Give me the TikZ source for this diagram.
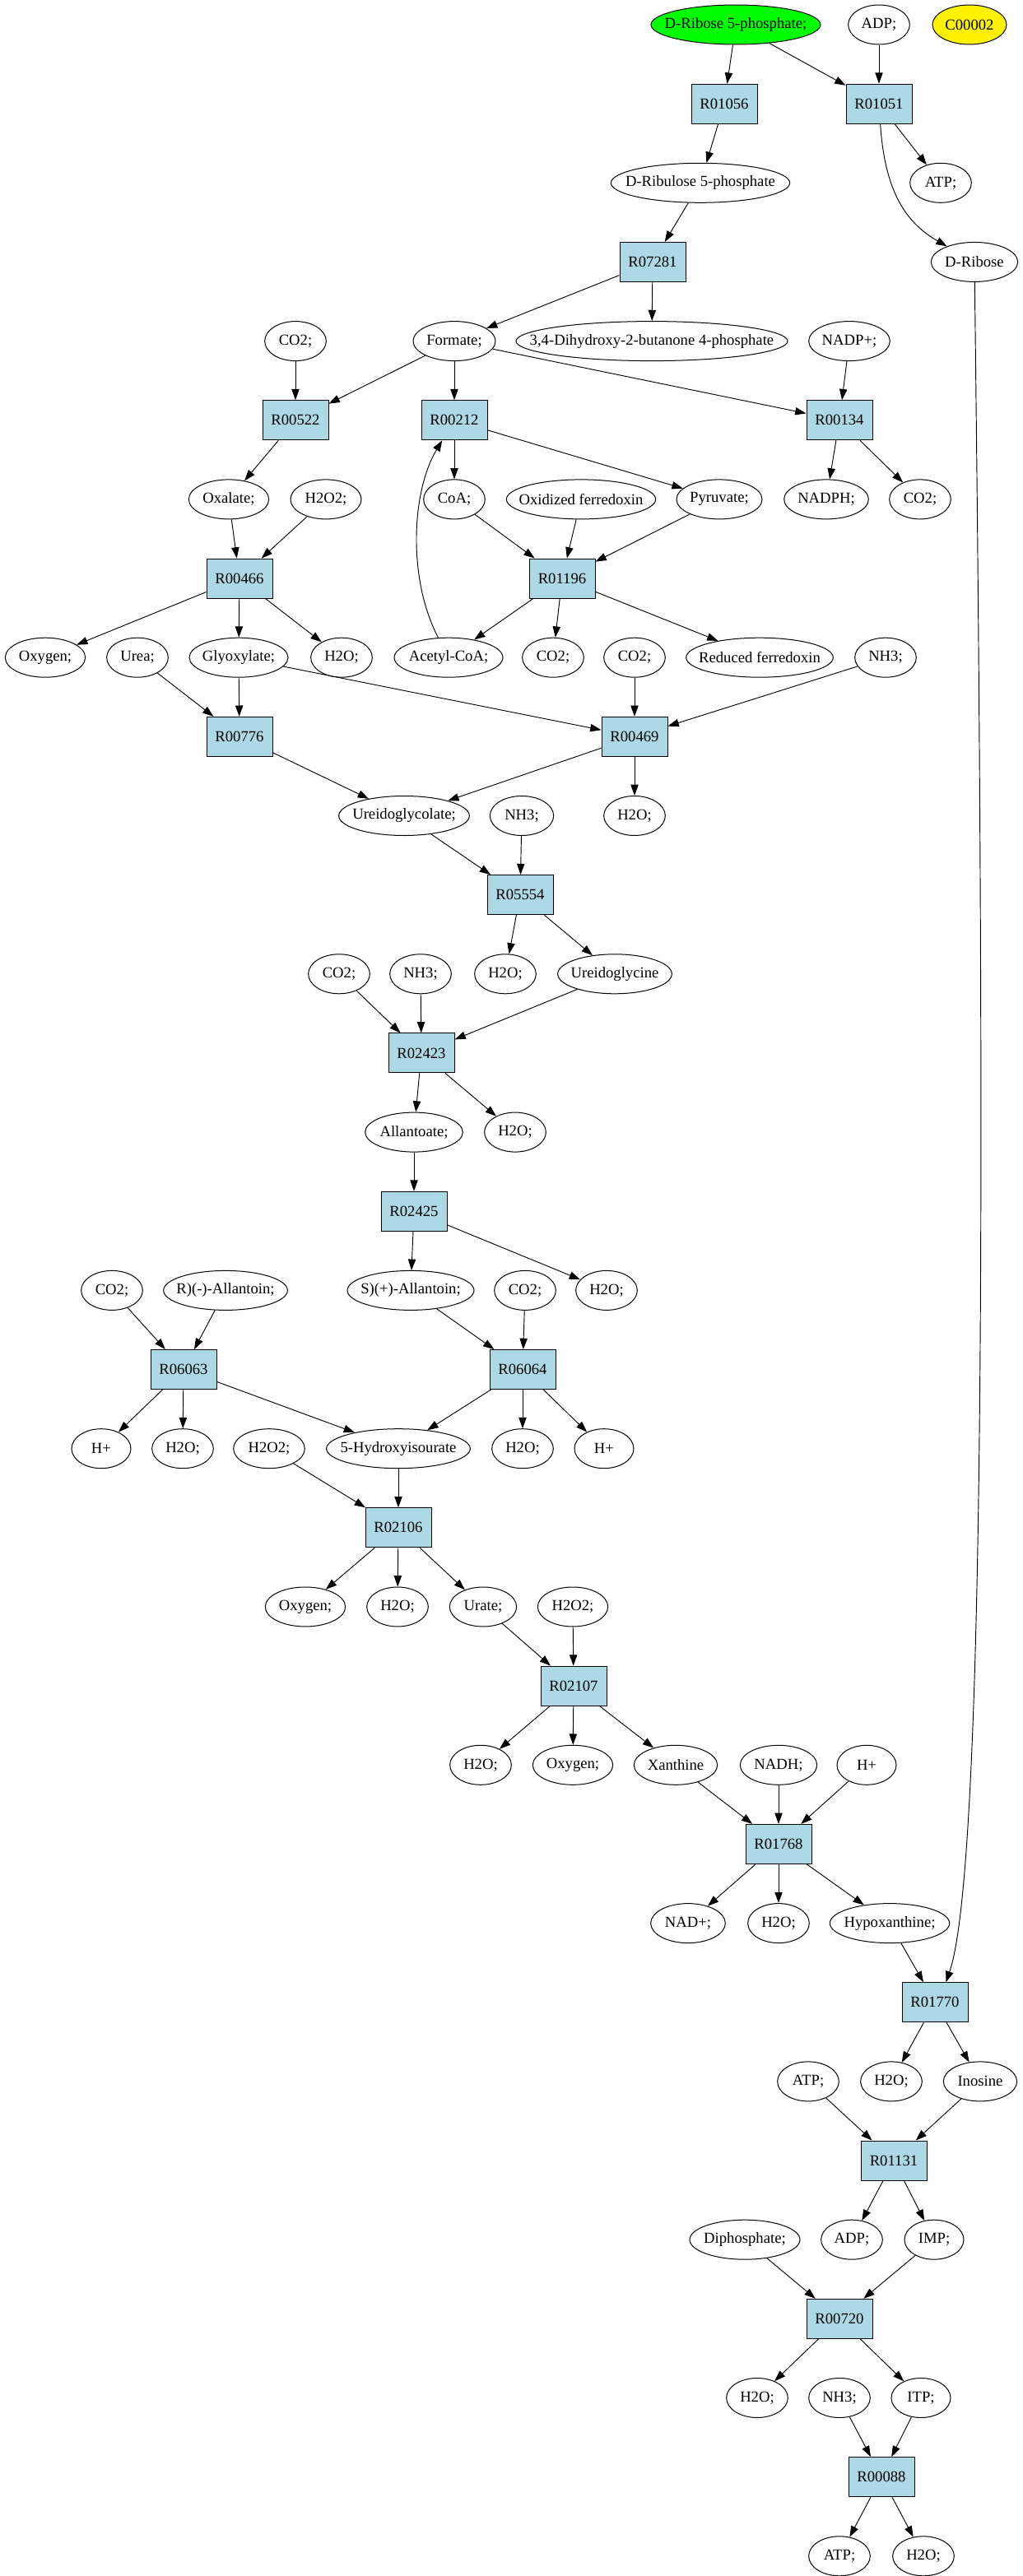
\documentclass[tikz,border=0pt]{standalone}
\usepackage{fontspec}
\setmainfont{Liberation Serif}
\usetikzlibrary{arrows.meta,shapes.geometric}
\definecolor{lightblue}{RGB}{173,216,230}
\tikzset{molec/.style={ellipse, draw, line width=0.75pt, minimum height=36pt,
                       minimum width=56pt, inner sep=0pt,
                       execute at begin node={\hbox to 0pt\bgroup\hss},
                       execute at end node={\hss\egroup}},
         reac/.style={rectangle, draw, line width=0.75pt, fill=lightblue,
                      minimum width=60pt, minimum height=36pt, inner sep=0pt},
         fleche/.style={-{Triangle[length=10pt,width=7pt]}, line width=0.7pt}}

\begin{document}
\begin{tikzpicture}[x=0.75pt, y=-72.1125pt,
                    every node/.style={font=\fontsize{14pt}{16pt}\selectfont}]
\useasboundingbox (0,-0.312) rectangle (1243,32.252);
% Ranks 0 to 3:
\node[molec, fill=green, minimum width=154.5pt] (dr5p) at (894,0) {D-Ribose 5-phosphate;};
\node[molec] (adpa) at (1068,0) {ADP;};
\node[molec, fill=yellow, minimum width=67.5pt] (c00002) at (1178,0) {C00002};
\node[reac] (r01056) at (880,1) {R01056};
\node[reac] (r01051) at (1068,1) {R01051};
\node[molec, minimum width=163pt] (ribu5p) at (851,2) {D-Ribulose 5-phosphate};
\node[molec] (atpa) at (1143,2) {ATP;};
\node[reac] (r07281) at (793,3) {R07281};
\node[molec, minimum width=79pt] (dribose) at (1184,3) {D-Ribose};
% Ranks 4 to 10:
\node[molec] (co2a) at (359,4) {CO2;};
\node[molec, minimum width=75pt] (formate) at (552,4) {Formate;};
\node[molec, minimum width=247.5pt] (dhbp) at (792,4) {3,4-Dihydroxy-2-butanone 4-phosphate};
\node[molec, minimum width=74pt] (nadpa) at (1032,4) {NADP+;};
\node[reac] (r00522) at (359,5) {R00522};
\node[reac] (r00212) at (552,5) {R00212};
\node[reac] (r00134) at (1020,5) {R00134};
\node[molec, minimum width=73pt] (oxalate) at (278,6) {Oxalate;};
\node[molec, minimum width=64.5pt] (h2o2a) at (396,6) {H2O2;};
\node[molec] (coa) at (552,6) {CoA;};
\node[molec, minimum width=136pt] (oxfd) at (706,6) {Oxidized ferredoxin};
\node[molec, minimum width=78pt] (pyruvate) at (874,6) {Pyruvate;};
\node[molec, minimum width=77pt] (nadph) at (1004,6) {NADPH;};
\node[molec] (co2b) at (1118,6) {CO2;};
\node[reac] (r00466) at (291,7) {R00466};
\node[reac] (r01196) at (683,7) {R01196};
\node[molec, minimum width=73pt] (oxygena) at (55,8) {Oxygen;};
\node[molec] (urea) at (167,8) {Urea;};
\node[molec, minimum width=90pt] (glyox) at (290,8) {Glyoxylate;};
\node[molec] (h2oa) at (415,8) {H2O;};
\node[molec, minimum width=99pt] (acetylcoa) at (545,8) {Acetyl-CoA;};
\node[molec] (co2c) at (672,8) {CO2;};
\node[molec] (co2d) at (771,8) {CO2;};
\node[molec, minimum width=134pt] (redfd) at (923,8) {Reduced ferredoxin};
\node[molec] (nh3a) at (1076,8) {NH3;};
\node[reac] (r00776) at (291,9) {R00776};
\node[reac] (r00469) at (771,9) {R00469};
\node[molec, minimum width=119pt] (uglycolate) at (491,10) {Ureidoglycolate;};
\node[molec, minimum width=58pt] (nh3b) at (634,10) {NH3;};
\node[molec] (h2ob) at (771,10) {H2O;};
% Ranks 11 to 21:
\node[reac] (r05554) at (632,11) {R05554};
\node[molec] (co2e) at (412,12) {CO2;};
\node[molec] (nh3c) at (511,12) {NH3;};
\node[molec] (h2oc) at (614,12) {H2O;};
\node[molec, minimum width=104pt] (uglycine) at (747,12) {Ureidoglycine};
\node[reac] (r02423) at (512,13) {R02423};
\node[molec, minimum width=89pt] (allantoate) at (503,14) {Allantoate;};
\node[molec] (h2od) at (626,14) {H2O;};
\node[reac] (r02425) at (503,15) {R02425};
\node[molec] (co2f) at (136,16) {CO2;};
\node[molec, minimum width=113pt] (rallantoin) at (274,16) {R)(-)-Allantoin;};
\node[molec, minimum width=115.5pt] (sallantoin) at (499,16) {S)(+)-Allantoin;};
\node[molec] (co2g) at (638,16) {CO2;};
\node[molec] (h2oe) at (737,16) {H2O;};
\node[reac] (r06063) at (223,17) {R06063};
\node[reac] (r06064) at (635,17) {R06064};
\node[molec, minimum width=54pt] (hplusa) at (123,18) {H+};
\node[molec] (h2of) at (222,18) {H2O;};
\node[molec, minimum width=65pt] (h2o2b) at (327,18) {H2O2;};
\node[molec, minimum width=131pt] (hiu) at (484,18) {5-Hydroxyisourate};
\node[molec] (h2og) at (635,18) {H2O;};
\node[molec, minimum width=54pt] (hplusb) at (734,18) {H+};
\node[reac] (r02106) at (484,19) {R02106};
\node[molec, minimum width=73pt] (oxygenb) at (371,20) {Oxygen;};
\node[molec] (h2oh) at (483,20) {H2O;};
\node[molec, minimum width=61pt] (urate) at (587,20) {Urate;};
\node[molec, minimum width=64pt] (h2o2c) at (696,20) {H2O2;};
\node[reac] (r02107) at (697,21) {R02107};
% Ranks 22 to 32:
\node[molec] (h2oi) at (584,22) {H2O;};
\node[molec, minimum width=73pt] (oxygenc) at (696,22) {Oxygen;};
\node[molec, minimum width=76pt] (xanthine) at (821,22) {Xanthine};
\node[molec, minimum width=70pt] (nadh) at (946,22) {NADH;};
\node[molec, minimum width=54pt] (hplusc) at (1053,22) {H+};
\node[reac] (r01768) at (946,23) {R01768};
\node[molec, minimum width=68pt] (nadplus) at (836,24) {NAD+;};
\node[molec] (h2oj) at (946,24) {H2O;};
\node[molec, minimum width=109pt] (hypoxan) at (1081,24) {Hypoxanthine;};
\node[reac] (r01770) at (1136,25) {R01770};
\node[molec] (atpb) at (982,26) {ATP;};
\node[molec] (h2ok) at (1083,26) {H2O;};
\node[molec, minimum width=67pt] (inosine) at (1191,26) {Inosine};
\node[reac] (r01131) at (1086,27) {R01131};
\node[molec, minimum width=100.5pt] (diphos) at (905,28) {Diphosphate;};
\node[molec] (adpb) at (1035,28) {ADP;};
\node[molec, minimum width=54pt] (imp) at (1135,28) {IMP;};
\node[reac] (r00720) at (1020,29) {R00720};
\node[molec] (h2ol) at (920,30) {H2O;};
\node[molec] (nh3d) at (1020,30) {NH3;};
\node[molec, minimum width=54pt] (itp) at (1119,30) {ITP;};
\node[reac] (r00088) at (1071,31) {R00088};
\node[molec] (atpc) at (1020,32) {ATP;};
\node[molec] (h2om) at (1122,32) {H2O;};

% Edges, reaction by reaction:
\draw[fleche] (dr5p) -- (r01056); \draw[fleche] (r01056) -- (ribu5p);
\draw[fleche] (dr5p) -- (r01051); \draw[fleche] (adpa) -- (r01051);
\draw[fleche] (r01051) -- (atpa);
\draw[fleche] (r01051) .. controls (1075,2.1) and (1100,2.5) .. (dribose);
\draw[fleche] (ribu5p) -- (r07281); \draw[fleche] (r07281) -- (formate);
\draw[fleche] (r07281) -- (dhbp);
\draw[fleche] (co2a) -- (r00522); \draw[fleche] (formate) -- (r00522);
\draw[fleche] (r00522) -- (oxalate);
\draw[fleche] (formate) -- (r00212); \draw[fleche] (r00212) -- (coa);
\draw[fleche] (r00212) -- (pyruvate);
\draw[fleche] (acetylcoa) .. controls (495,7.0) and (500,5.9) .. (r00212); % back up
\draw[fleche] (formate) -- (r00134); \draw[fleche] (nadpa) -- (r00134);
\draw[fleche] (r00134) -- (nadph); \draw[fleche] (r00134) -- (co2b);
\draw[fleche] (oxalate) -- (r00466); \draw[fleche] (h2o2a) -- (r00466);
\draw[fleche] (r00466) -- (oxygena); \draw[fleche] (r00466) -- (glyox);
\draw[fleche] (r00466) -- (h2oa);
\draw[fleche] (coa) -- (r01196); \draw[fleche] (oxfd) -- (r01196);
\draw[fleche] (pyruvate) -- (r01196); \draw[fleche] (r01196) -- (acetylcoa);
\draw[fleche] (r01196) -- (co2c); \draw[fleche] (r01196) -- (redfd);
\draw[fleche] (urea) -- (r00776); \draw[fleche] (glyox) -- (r00776);
\draw[fleche] (r00776) -- (uglycolate);
\draw[fleche] (glyox) -- (r00469); \draw[fleche] (co2d) -- (r00469);
\draw[fleche] (nh3a) -- (r00469); \draw[fleche] (r00469) -- (uglycolate);
\draw[fleche] (r00469) -- (h2ob);
\draw[fleche] (uglycolate) -- (r05554); \draw[fleche] (nh3b) -- (r05554);
\draw[fleche] (r05554) -- (h2oc); \draw[fleche] (r05554) -- (uglycine);
\draw[fleche] (co2e) -- (r02423); \draw[fleche] (nh3c) -- (r02423);
\draw[fleche] (uglycine) -- (r02423);
\draw[fleche] (r02423) -- (allantoate); \draw[fleche] (r02423) -- (h2od);
\draw[fleche] (allantoate) -- (r02425);
\draw[fleche] (r02425) -- (sallantoin); \draw[fleche] (r02425) -- (h2oe);
\draw[fleche] (co2f) -- (r06063); \draw[fleche] (rallantoin) -- (r06063);
\draw[fleche] (r06063) -- (hplusa); \draw[fleche] (r06063) -- (h2of);
\draw[fleche] (r06063) -- (hiu);
\draw[fleche] (sallantoin) -- (r06064); \draw[fleche] (co2g) -- (r06064);
\draw[fleche] (r06064) -- (hiu); \draw[fleche] (r06064) -- (h2og);
\draw[fleche] (r06064) -- (hplusb);
\draw[fleche] (h2o2b) -- (r02106); \draw[fleche] (hiu) -- (r02106);
\draw[fleche] (r02106) -- (oxygenb); \draw[fleche] (r02106) -- (h2oh);
\draw[fleche] (r02106) -- (urate);
\draw[fleche] (urate) -- (r02107); \draw[fleche] (h2o2c) -- (r02107);
\draw[fleche] (r02107) -- (h2oi); \draw[fleche] (r02107) -- (oxygenc);
\draw[fleche] (r02107) -- (xanthine);
\draw[fleche] (xanthine) -- (r01768); \draw[fleche] (nadh) -- (r01768);
\draw[fleche] (hplusc) -- (r01768);
\draw[fleche] (r01768) -- (nadplus); \draw[fleche] (r01768) -- (h2oj);
\draw[fleche] (r01768) -- (hypoxan);
\draw[fleche] (hypoxan) -- (r01770);
\draw[fleche] (dribose) .. controls (1197,14) and (1198,23.3) .. ([xshift=10pt]r01770.north); % long one
\draw[fleche] (r01770) -- (h2ok); \draw[fleche] (r01770) -- (inosine);
\draw[fleche] (atpb) -- (r01131); \draw[fleche] (inosine) -- (r01131);
\draw[fleche] (r01131) -- (adpb); \draw[fleche] (r01131) -- (imp);
\draw[fleche] (diphos) -- (r00720); \draw[fleche] (imp) -- (r00720);
\draw[fleche] (r00720) -- (h2ol); \draw[fleche] (r00720) -- (itp);
\draw[fleche] (nh3d) -- (r00088); \draw[fleche] (itp) -- (r00088);
\draw[fleche] (r00088) -- (atpc); \draw[fleche] (r00088) -- (h2om);
\end{tikzpicture}
\end{document}
